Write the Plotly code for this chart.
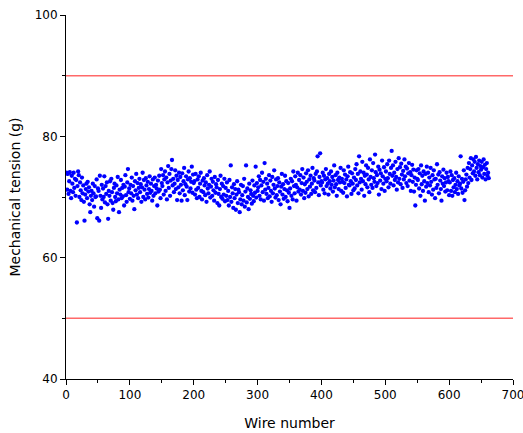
import plotly.graph_objects as go

tension_1_50 = [74.0, 71.2, 73.8, 70.5, 72.6, 74.1, 71.0, 69.8, 73.5, 72.2,
                70.8, 74.0, 71.5, 73.0, 70.2, 72.8, 65.8, 71.8, 74.2, 73.6,
                70.0, 72.4, 71.1, 69.5, 73.2, 70.6, 71.9, 69.2, 66.1, 70.4,
                71.3, 72.2, 69.8, 72.5, 70.9, 71.6, 68.8, 67.5, 70.2, 71.0,
                69.5, 72.2, 70.6, 68.4, 71.8, 70.0, 70.1, 72.9, 66.5, 71.4]
tension_51_100 = [71.0, 66.1, 73.5, 70.2, 68.2, 72.0, 69.6, 71.4, 70.0, 73.4,
                  69.1, 71.8, 70.5, 72.4, 68.8, 66.4, 71.0, 70.2, 72.6, 69.4,
                  73.0, 70.8, 69.0, 67.9, 71.5, 72.2, 70.0, 69.3, 71.9, 70.6,
                  73.3, 69.6, 67.5, 71.2, 70.4, 72.8, 69.8, 71.5, 70.1, 72.0,
                  68.6, 71.7, 73.6, 70.3, 69.2, 72.4, 74.6, 70.8, 71.4, 69.7]
tension_101_150 = [72.0, 70.6, 73.2, 69.4, 71.8, 70.2, 68.0, 72.6, 71.1, 73.8,
                   70.4, 72.3, 69.8, 71.5, 73.0, 70.8, 72.1, 69.2, 71.6, 74.0,
                   70.0, 72.8, 71.2, 69.6, 73.1, 71.9, 70.5, 72.5, 69.9, 71.3,
                   73.4, 70.7, 72.2, 71.0, 69.4, 72.9, 70.2, 71.8, 73.2, 70.6,
                   72.0, 71.4, 68.6, 72.7, 70.9, 73.5, 71.2, 69.8, 74.6, 72.3]
tension_151_200 = [71.8, 73.6, 70.4, 72.9, 74.2, 71.0, 73.2, 69.6, 72.4, 75.1,
                   71.5, 73.8, 70.2, 72.7, 74.6, 76.1, 71.9, 73.0, 70.8, 72.2,
                   74.4, 71.3, 73.5, 69.5, 72.8, 71.6, 74.0, 70.6, 73.3, 72.0,
                   69.4, 73.9, 71.1, 72.6, 74.8, 70.3, 72.1, 73.4, 71.7, 69.5,
                   72.9, 74.2, 70.9, 73.1, 71.4, 72.5, 75.0, 70.7, 73.7, 72.3]
tension_201_250 = [72.6, 70.4, 73.8, 71.2, 69.8, 72.9, 71.5, 73.4, 70.0, 72.2,
                   74.0, 71.0, 69.6, 72.7, 70.8, 73.1, 71.9, 70.3, 72.4, 69.2,
                   73.6, 71.4, 70.6, 72.0, 74.2, 69.9, 71.7, 73.0, 70.2, 72.5,
                   71.1, 69.4, 73.3, 70.7, 72.1, 71.6, 69.0, 72.8, 70.5, 68.6,
                   71.3, 73.5, 70.0, 72.2, 69.7, 71.8, 70.4, 73.0, 69.3, 71.5]
tension_251_300 = [70.2, 72.4, 69.5, 71.0, 68.6, 72.8, 70.0, 75.2, 69.2, 71.6,
                   70.6, 68.2, 72.1, 69.8, 71.3, 67.9, 70.4, 72.6, 69.0, 71.2,
                   70.8, 67.5, 69.6, 72.0, 68.8, 70.3, 71.8, 69.4, 73.0, 68.4,
                   70.9, 75.2, 69.1, 71.4, 70.0, 68.0, 72.2, 69.7, 71.1, 70.5,
                   68.9, 72.7, 70.2, 69.3, 71.9, 70.7, 75.0, 69.9, 72.3, 71.0]
tension_301_350 = [71.6, 73.4, 70.2, 72.8, 69.6, 71.9, 74.0, 70.8, 72.5, 69.4,
                   75.6, 71.2, 73.0, 70.5, 72.2, 69.8, 71.5, 73.6, 70.1, 72.7,
                   71.0, 69.2, 73.3, 70.6, 72.0, 74.4, 71.4, 69.9, 72.9, 70.3,
                   71.8, 73.1, 69.5, 72.4, 70.9, 68.8, 71.7, 73.8, 70.4, 72.1,
                   69.7, 71.3, 73.5, 70.0, 72.6, 71.1, 69.3, 72.3, 70.7, 68.2]
tension_351_400 = [71.4, 73.0, 70.2, 72.6, 69.6, 74.2, 71.8, 70.6, 73.4, 72.0,
                   69.4, 71.6, 74.0, 70.9, 72.8, 71.2, 73.6, 70.4, 72.3, 74.6,
                   71.0, 73.2, 69.8, 72.1, 70.7, 73.9, 72.5, 71.3, 74.4, 70.1,
                   72.9, 71.7, 73.5, 70.5, 72.2, 74.8, 71.1, 73.1, 72.7, 70.8,
                   73.8, 71.5, 74.2, 76.7, 72.4, 70.3, 73.3, 77.2, 71.9, 72.6]
tension_401_450 = [72.4, 74.0, 71.2, 73.5, 70.6, 72.9, 74.6, 71.8, 73.1, 72.2,
                   70.4, 73.8, 72.6, 71.4, 74.2, 72.0, 73.3, 70.9, 72.7, 75.2,
                   71.6, 73.6, 72.1, 70.2, 74.0, 72.8, 71.3, 73.2, 72.4, 74.8,
                   71.0, 73.0, 72.5, 70.7, 74.4, 72.3, 73.7, 71.5, 72.9, 70.1,
                   73.4, 75.0, 72.0, 71.9, 74.1, 72.6, 70.5, 73.9, 72.2, 71.1]
tension_451_500 = [73.2, 71.4, 74.6, 72.8, 75.4, 71.9, 73.8, 70.6, 76.7, 72.4,
                   74.2, 73.0, 71.2, 75.8, 72.6, 74.0, 70.2, 73.5, 72.1, 75.2,
                   73.7, 71.6, 74.8, 72.9, 70.8, 76.2, 73.3, 72.0, 74.4, 71.5,
                   75.6, 73.1, 72.5, 77.0, 74.1, 71.8, 73.6, 72.3, 75.0, 70.4,
                   74.5, 72.7, 73.9, 71.3, 76.0, 73.4, 72.2, 74.9, 71.0, 73.0]
tension_501_550 = [74.2, 72.6, 75.4, 73.1, 71.6, 76.0, 73.8, 72.2, 74.8, 77.6,
                   73.5, 75.2, 71.9, 74.0, 72.8, 75.8, 73.3, 71.2, 74.6, 72.4,
                   76.4, 73.0, 74.9, 72.1, 75.5, 73.7, 71.5, 74.3, 72.9, 76.2,
                   73.4, 75.0, 72.3, 74.7, 71.8, 73.9, 75.6, 72.7, 74.1, 71.0,
                   73.6, 75.3, 72.5, 74.5, 70.9, 73.2, 68.6, 72.0, 74.4, 73.0]
tension_551_600 = [72.8, 74.6, 71.4, 73.9, 70.2, 75.2, 72.1, 73.5, 71.0, 74.2,
                   72.6, 69.4, 73.8, 71.7, 75.0, 72.3, 74.0, 70.8, 73.2, 71.9,
                   74.8, 72.5, 70.4, 73.6, 71.2, 74.4, 72.9, 69.8, 73.0, 71.5,
                   75.4, 72.0, 73.7, 70.6, 74.1, 72.7, 71.3, 69.4, 73.4, 72.2,
                   74.5, 71.8, 73.1, 70.9, 72.4, 74.0, 71.1, 73.3, 72.6, 70.3]
tension_601_662 = [72.4, 74.2, 71.0, 73.6, 70.2, 72.8, 71.6, 73.1, 70.8, 72.0,
                   74.0, 71.3, 72.6, 70.5, 73.4, 71.9, 72.2, 76.7, 71.4, 73.0,
                   70.7, 72.5, 74.4, 69.5, 71.1, 72.9, 73.7, 71.7, 74.8, 72.3,
                   75.6, 73.2, 74.6, 76.4, 72.8, 75.2, 73.9, 76.2, 74.2, 75.8,
                   73.5, 76.6, 74.8, 72.9, 75.4, 74.1, 76.0, 73.6, 75.1, 74.5,
                   75.8, 73.2, 74.9, 76.2, 73.8, 75.3, 72.9, 74.6, 75.6, 73.5,
                   74.0, 73.1]

tension = (tension_1_50 + tension_51_100 + tension_101_150 + tension_151_200
           + tension_201_250 + tension_251_300 + tension_301_350 + tension_351_400
           + tension_401_450 + tension_451_500 + tension_501_550 + tension_551_600
           + tension_601_662)
wire = list(range(1, len(tension) + 1))

limits = [90, 50]
x_range = [0, 700]
y_range = [40, 100]

fig = go.Figure()
for lim in limits:
    fig.add_trace(go.Scatter(x=x_range, y=[lim, lim], mode="lines",
                             line=dict(color="rgb(255,105,105)", width=1.5),
                             hoverinfo="skip", showlegend=False))
fig.add_trace(go.Scatter(x=wire, y=tension, mode="markers",
                         marker=dict(color="#0000FF", size=4.3, line=dict(width=0)),
                         showlegend=False))

axis_font = dict(family="DejaVu Sans", size=12, color="black")
fig.update_layout(
    width=523, height=433,
    margin=dict(l=66, r=10, t=15, b=54, autoexpand=False),
    paper_bgcolor="white", plot_bgcolor="white",
    font=axis_font,
    xaxis=dict(range=x_range, dtick=100, tick0=0, showline=True, linecolor="black",
               linewidth=1, ticks="outside", ticklen=5, tickcolor="black",
               showgrid=False, zeroline=False, ticklabeloverflow="allow", automargin=False,
               minor=dict(ticks="outside", dtick=50, ticklen=3, tickcolor="black", showgrid=False),
               title=dict(text="Wire number", font=dict(family="DejaVu Sans", size=14), standoff=16)),
    yaxis=dict(range=y_range, dtick=20, tick0=40, showline=True, linecolor="black",
               linewidth=1, ticks="outside", ticklen=5, tickcolor="black",
               showgrid=False, zeroline=False, ticklabeloverflow="allow", automargin=False,
               minor=dict(ticks="outside", dtick=10, ticklen=3, tickcolor="black", showgrid=False),
               title=dict(text="Mechanical tension (g)", font=dict(family="DejaVu Sans", size=14), standoff=10)),
)
fig.write_html("out.html")
